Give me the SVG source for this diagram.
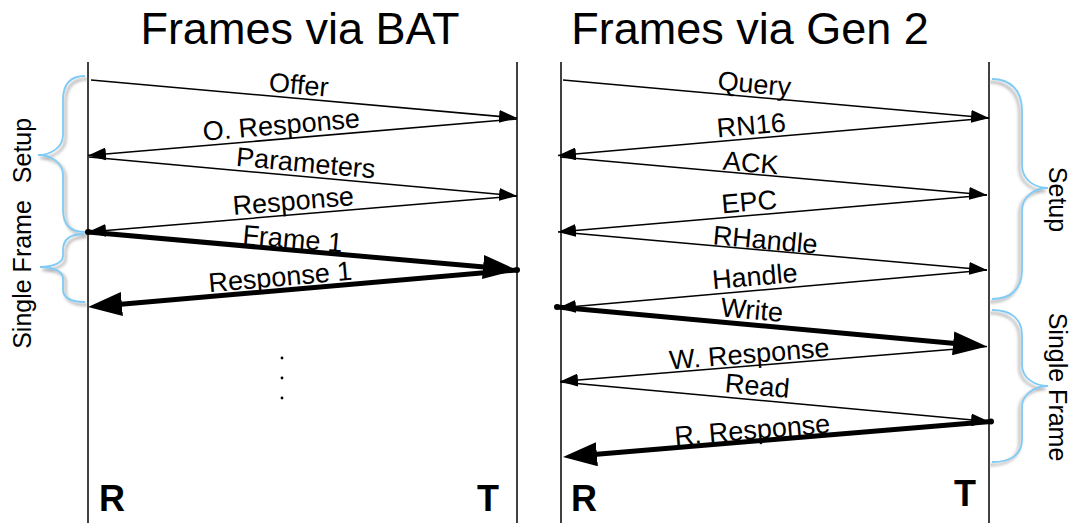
<svg xmlns="http://www.w3.org/2000/svg" width="1076" height="523" viewBox="0 0 1076 523">
<style>
  .life { stroke: #000; stroke-width: 1.5; fill: none; }
  .thin { stroke: #000; stroke-width: 1.5; fill: none; marker-end: url(#ahThin); }
  .thick { stroke: #000; stroke-width: 5; fill: none; marker-end: url(#ahThick); }
  .lbl { font-family: "Liberation Sans", Arial, Helvetica, sans-serif; font-size: 27px; fill: #000; text-anchor: middle; }
  .title { font-family: "Liberation Sans", Arial, Helvetica, sans-serif; font-size: 45px; fill: #000; text-anchor: middle; }
  .end { font-family: "Liberation Sans", Arial, Helvetica, sans-serif; font-size: 36px; font-weight: bold; fill: #000; }
  .side { font-family: "Liberation Sans", Arial, Helvetica, sans-serif; font-size: 25px; fill: #000; text-anchor: middle; }
  .brace { stroke: #7fcbf5; stroke-width: 1.8; fill: none; }
</style>
<defs>
  <marker id="ahThin" markerUnits="userSpaceOnUse" markerWidth="18" markerHeight="13" refX="18" refY="6.5" orient="auto">
    <path d="M0,0 L18,6.5 L0,13 z" fill="#000"/>
  </marker>
  <marker id="ahThick" markerUnits="userSpaceOnUse" markerWidth="34" markerHeight="24" refX="24" refY="12" orient="auto">
    <path d="M0,0 L34,12 L0,24 z" fill="#000"/>
  </marker>
  <filter id="shL" x="-50%" y="-10%" width="200%" height="120%">
    <feDropShadow dx="2.5" dy="3" stdDeviation="1.6" flood-color="#777" flood-opacity="0.7"/>
  </filter>
  <filter id="shR" x="-50%" y="-10%" width="200%" height="120%">
    <feDropShadow dx="-2.5" dy="3" stdDeviation="1.6" flood-color="#777" flood-opacity="0.7"/>
  </filter>
</defs>
<rect width="1076" height="523" fill="#fff"/>

<text class="title" x="300" y="44">Frames via BAT</text>
<text class="title" x="750" y="44">Frames via Gen 2</text>

<g id="bat-reader">
  <line class="life" x1="88" y1="62" x2="88" y2="523"/>
  <text class="end" x="99" y="511">R</text>
</g>
<g id="bat-tag">
  <line class="life" x1="517" y1="62" x2="517" y2="523"/>
  <text class="end" x="477" y="511">T</text>
</g>
<g id="gen2-reader">
  <line class="life" x1="561" y1="62" x2="561" y2="523"/>
  <text class="end" x="571" y="511">R</text>
</g>
<g id="gen2-tag">
  <line class="life" x1="989" y1="62" x2="989" y2="523"/>
  <text class="end" x="954" y="506">T</text>
</g>

<g id="bat-braces">
  <path class="brace" filter="url(#shL)" d="M85,76 C70,76 63,85 63,100 L63,135 C63,148 50,155 38,155 C50,155 63,162 63,175 L63,210 C63,225 70,232 85,232"/>
  <path class="brace" filter="url(#shL)" d="M84,234 C70,234 63,240 63,250 L63,256 C63,263 52,267 40,267 C52,267 63,271 63,278 L63,290 C63,297 70,302 85,302"/>
  <text class="side" transform="translate(31,150.5) rotate(-90)">Setup</text>
  <text class="side" transform="translate(31,274.5) rotate(-90)">Single Frame</text>
</g>
<g id="gen2-braces">
  <path class="brace" filter="url(#shR)" d="M992,79 C1010,79 1022,90 1022,110 L1022,165 C1022,180 1035,188 1048,188 C1035,188 1022,196 1022,211 L1022,270 C1022,290 1010,299 992,299"/>
  <path class="brace" filter="url(#shR)" d="M992,310 C1010,310 1022,318 1022,335 L1022,365 C1022,378 1035,386 1048,386 C1035,386 1022,394 1022,407 L1022,440 C1022,455 1010,462 992,462"/>
  <text class="side" transform="translate(1049,199.5) rotate(90)">Setup</text>
  <text class="side" transform="translate(1049,387) rotate(90)">Single Frame</text>
</g>

<g id="connectors">
  <!-- BAT -->
  <line class="thin" x1="91" y1="80" x2="517" y2="118"/>
  <line class="thin" x1="517" y1="119" x2="88" y2="155.5"/>
  <line class="thin" x1="89" y1="157" x2="517" y2="196"/>
  <line class="thin" x1="517" y1="196" x2="88" y2="232"/>
  <line class="thick" x1="88" y1="232" x2="507" y2="269.1"/>
  <line class="thick" x1="517" y1="270" x2="97.96" y2="306.14"/>
  <circle cx="88" cy="232" r="3"/>
  <circle cx="517" cy="270" r="3"/>

  <text class="lbl" transform="translate(298,94) rotate(5.10)">Offer</text>
  <text class="lbl" transform="translate(282,134) rotate(-4.86)">O. Response</text>
  <text class="lbl" transform="translate(305,172) rotate(5.21)">Parameters</text>
  <text class="lbl" transform="translate(294,210) rotate(-4.80)">Response</text>
  <text class="lbl" transform="translate(292,248) rotate(5.06)">Frame 1</text>
  <text class="lbl" transform="translate(281,286) rotate(-4.93)">Response 1</text>

  <circle cx="282" cy="358" r="1.4"/>
  <circle cx="282" cy="378" r="1.4"/>
  <circle cx="282" cy="398" r="1.4"/>

  <!-- Gen 2 -->
  <line class="thin" x1="563" y1="80" x2="989" y2="118"/>
  <line class="thin" x1="989" y1="118" x2="558" y2="155.5"/>
  <line class="thin" x1="560" y1="157" x2="987" y2="195"/>
  <line class="thin" x1="987" y1="195" x2="558" y2="232"/>
  <line class="thin" x1="560" y1="232" x2="987" y2="270"/>
  <line class="thin" x1="987" y1="270" x2="558" y2="308"/>
  <line class="thick" x1="557" y1="307" x2="977.04" y2="345.59"/>
  <line class="thin" x1="987" y1="346.5" x2="560" y2="381.5"/>
  <line class="thin" x1="560" y1="382" x2="989" y2="421.5"/>
  <line class="thick" x1="991" y1="421.5" x2="572.97" y2="456.17"/>
  <circle cx="557" cy="307" r="3"/>
  <circle cx="991" cy="421.5" r="3"/>

  <text class="lbl" transform="translate(753.5,93) rotate(5.10)">Query</text>
  <text class="lbl" transform="translate(752,134.5) rotate(-4.97)">RN16</text>
  <text class="lbl" transform="translate(750,172) rotate(5.08)">ACK</text>
  <text class="lbl" transform="translate(750,211) rotate(-4.93)">EPC</text>
  <text class="lbl" transform="translate(764.5,249) rotate(5.09)">RHandle</text>
  <text class="lbl" transform="translate(755.5,285.5) rotate(-5.06)">Handle</text>
  <text class="lbl" transform="translate(751,319) rotate(5.25)">Write</text>
  <text class="lbl" transform="translate(750,363) rotate(-4.69)">W. Response</text>
  <text class="lbl" transform="translate(756.5,395) rotate(5.26)">Read</text>
  <text class="lbl" transform="translate(753,439) rotate(-4.74)">R. Response</text>
</g>
</svg>
